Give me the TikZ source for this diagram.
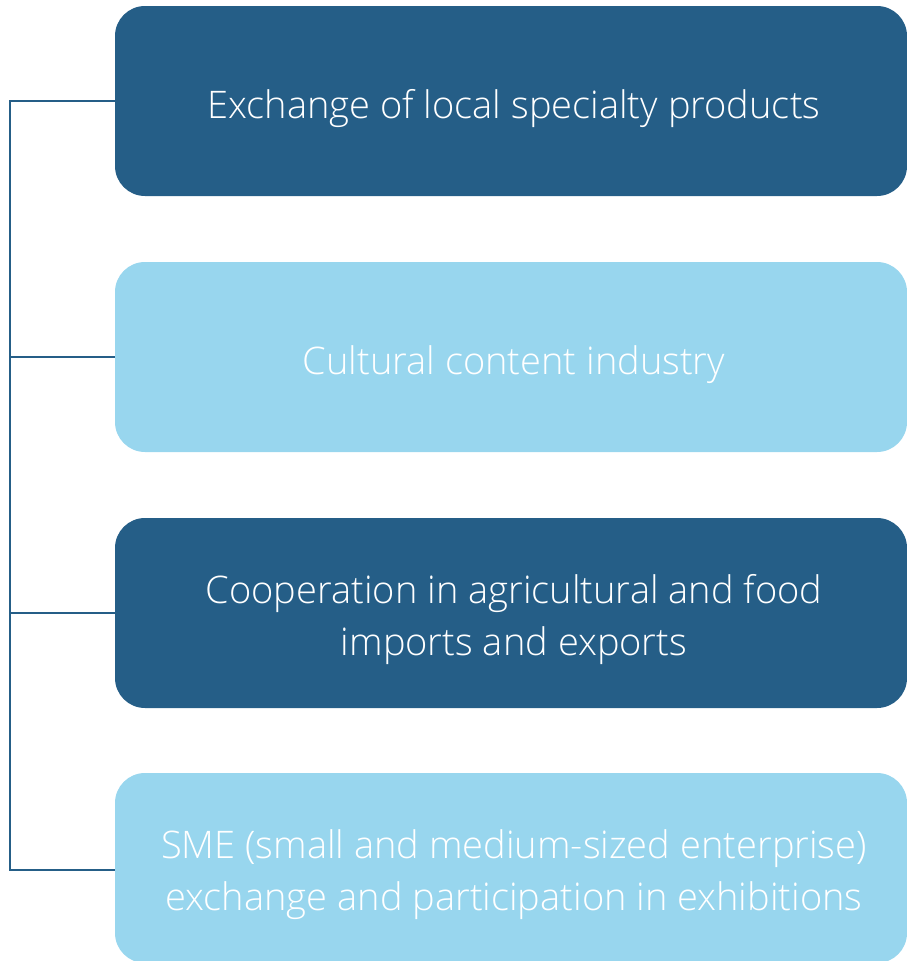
\documentclass[tikz,border=0pt]{standalone}
\usepackage{fontspec}
\setmainfont{Open Sans}[UprightFont=* Light]
\definecolor{darkb}{HTML}{255E87}
\definecolor{lightb}{HTML}{98D6EE}
\begin{document}
\begin{tikzpicture}[x=1pt,y=-1pt,
  box/.style={rounded corners=30pt, minimum width=792pt, minimum height=190pt, align=center, inner sep=0pt},
  darkbox/.style={box, fill=darkb},
  lightbox/.style={box, fill=lightb},
  lbl/.style={text=white, align=center, font=\fontsize{38}{52}\selectfont, inner sep=0pt},
  conn/.style={draw=darkb, line width=2pt}]
\useasboundingbox (0,0) rectangle (907,961);
\node[darkbox] (b1) at (511,101) {};
\node[lightbox] (b2) at (511,357) {};
\node[darkbox] (b3) at (511,613) {};
\node[lightbox] (b4) at (511,868) {};
\node[lbl] (t1) at (514,109) {Exchange of local specialty products};
\node[lbl] (t2) at (514,365) {Cultural content industry};
\node[lbl] (t3) at (514,620) {Cooperation in agricultural and food\\imports and exports};
\node[lbl] (t4) at (514,875) {SME (small and medium-sized enterprise)\\exchange and participation in exhibitions};
\coordinate (top) at (10,101);
\coordinate (bot) at (10,870);
\draw[conn] (b1.west) -- (top) -- (bot) -- (b4.west |- bot);
\draw[conn] (b2.west) -- (b2.west -| top);
\draw[conn] (b3.west) -- (b3.west -| top);
\end{tikzpicture}
\end{document}
